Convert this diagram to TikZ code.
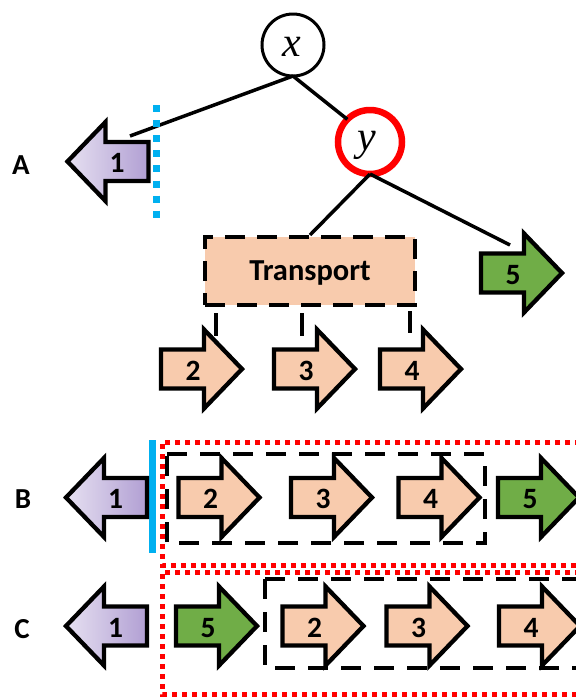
\documentclass[tikz,border=0pt]{standalone}
\usepackage{fontspec}
\setmainfont{Carlito}
\newfontfamily\varfont{Liberation Serif}
\definecolor{peach}{HTML}{F8CBAD}
\definecolor{grn}{HTML}{70AD47}
\definecolor{purpL}{HTML}{E6E0F1}
\definecolor{purpD}{HTML}{B19FD3}
\definecolor{skyb}{HTML}{00B0F0}
\definecolor{redc}{HTML}{FF0000}
\tikzset{
  arr/.style={draw=black, line width=4.3pt, line join=miter, miter limit=10},
  num/.style={font=\bfseries\fontsize{29.5}{29.5}\selectfont, inner sep=0pt, text depth=0pt},
  lab/.style={font=\bfseries\fontsize{29}{29}\selectfont, inner sep=0pt, text depth=0pt},
  var/.style={font=\varfont\itshape\fontsize{42}{42}\selectfont, inner sep=0pt},
  tree/.style={line width=3.5pt},
  stub/.style={line width=4pt},
  bdash/.style={line width=4pt, dash pattern=on 20pt off 13pt},
  reddot/.style={draw=redc, line width=5pt, dash pattern=on 5pt off 5pt},
  rarr/.pic={
    \path[arr,pic actions] (-40.5,-19.5) -- (2.5,-19.5) -- (2.5,-39.5) -- (40.5,0)
      -- (2.5,39.5) -- (2.5,19.5) -- (-40.5,19.5) -- cycle;
    \node[num] (-n) at (-8.5,1.5) {#1};
  },
  larr/.pic={
    \path[arr,pic actions] (40.5,-19.5) -- (-2.5,-19.5) -- (-2.5,-39.5) -- (-40.5,0)
      -- (-2.5,39.5) -- (-2.5,19.5) -- (40.5,19.5) -- cycle;
    \node[num] (-n) at (9,1.5) {#1};
  },
}
\begin{document}
\begin{tikzpicture}[x=1pt,y=-1pt]
\useasboundingbox (0,0) rectangle (576,697);
\clip (0,0) rectangle (576,697);

% ---------- Row A : tree ----------
\node[circle, draw, line width=3pt, minimum size=62pt, inner sep=0pt, outer sep=0pt] (x) at (293,45) {};
\node[var] (xl) at (292,47) {x};
\node[circle, draw=redc, line width=6.5pt, minimum size=64pt, inner sep=0pt, outer sep=0pt] (y) at (370,142) {};
\node[var] (yl) at (367,145) {y};

\node[draw, fill=peach, minimum width=210pt, minimum height=68pt, line width=4pt,
      dash pattern=on 20pt off 12pt, font=\bfseries\fontsize{30.5}{30.5}\selectfont,
      text depth=0pt, inner sep=0pt] (tr) at (310,271) {Transport};

\coordinate (l1) at (130,136);
\coordinate (l5) at (510,245);
\draw[tree] (x.south) -- (l1);
\draw[tree] (x.south) -- (y.north west);
\draw[tree] (y.south) -- (tr.north);
\draw[tree] (y.south) -- (l5);

\coordinate (c2) at (216,336);
\coordinate (c3) at (302,336);
\coordinate (c4) at (410,333);
\draw[stub, shorten <=6pt] (tr.south -| c2) -- (c2);
\draw[stub, shorten <=6pt] (tr.south -| c3) -- (c3);
\draw[stub, shorten <=4pt] (tr.south -| c4) -- (c4);

\pic[left color=purpL, right color=purpD] (A1) at (108,161.5) {larr=1};
\pic[fill=peach] (A2) at (201.5,369) {rarr=2};
\pic[fill=peach] (A3) at (314.5,369) {rarr=3};
\pic[fill=peach] (A4) at (420.5,369) {rarr=4};
\pic[fill=grn] (A5) at (521.5,273) {rarr=5};

\draw[skyb, line width=7pt, dash pattern=on 7pt off 8.1pt] (156,105) -- (156,219);

\node[lab] (LA) at (21,165) {A};

% ---------- Row B ----------
\node[lab] (LB) at (23,499) {B};
\draw[reddot] (600,442) -- (162,442) -- (162,565) -- (600,565);
\draw[bdash] (167,454) -- (485,454) -- (485,543) -- (167,543) -- cycle;
\draw[skyb, line width=7pt] (152,440) -- (152,553);

\pic[left color=purpL, right color=purpD] (B1) at (106.5,497.5) {larr=1};
\pic[fill=peach] (B2) at (219,497.5) {rarr=2};
\pic[fill=peach] (B3) at (331.5,497.5) {rarr=3};
\pic[fill=peach] (B4) at (439,497.5) {rarr=4};
\pic[fill=grn] (B5) at (538.5,497.5) {rarr=5};

% ---------- Row C ----------
\node[lab] (LC) at (22,629) {C};
\draw[reddot] (600,572) -- (162,572) -- (162,694) -- (600,694);
\draw[bdash] (265,579) -- (620,579);
\draw[bdash] (265,579) -- (265,668) -- (620,668);

\pic[left color=purpL, right color=purpD] (C1) at (106.5,626) {larr=1};
\pic[fill=grn] (C5) at (216.5,626) {rarr=5};
\pic[fill=peach] (C2) at (323,626) {rarr=2};
\pic[fill=peach] (C3) at (427,626) {rarr=3};
\pic[fill=peach] (C4) at (539.5,626) {rarr=4};
\end{tikzpicture}
\end{document}
